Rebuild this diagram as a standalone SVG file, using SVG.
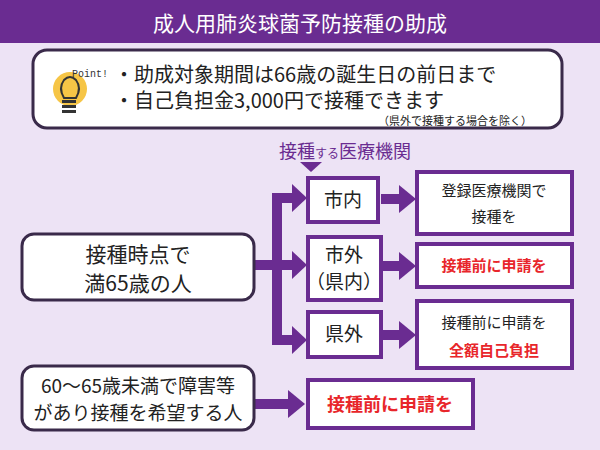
<svg xmlns="http://www.w3.org/2000/svg" width="600" height="450" viewBox="0 0 600 450">
<style>
text{font-family:"Noto Sans CJK JP","Noto Sans",sans-serif;font-weight:normal}
.b{fill:#fff;stroke:#6a2c91;stroke-width:4}
.r{fill:#fff;stroke:#3a2a4a;stroke-width:3}
.c{fill:#6a2c91}
.k{fill:#222}
.red{fill:#e8262b;font-weight:bold}
</style>
<rect width="600" height="450" fill="#ede3f5"/>
<g id="title"><rect width="600" height="43" fill="#6a2c91"/><text x="300" y="31" font-size="21" fill="#fff" text-anchor="middle">成人用肺炎球菌予防接種の助成</text></g>
<g id="point">
<rect x="33" y="50" width="529" height="78" rx="14" class="r"/>
<circle cx="70" cy="89" r="17" fill="#f6c546"/>
<path d="M64 98 q-6-10 0-18 q6-6 12 0 q6 8 0 18z" fill="none" stroke="#333" stroke-width="2"/>
<rect x="62" y="100" width="14" height="3" fill="#333"/><rect x="62" y="105" width="14" height="3" fill="#333"/><rect x="62" y="110" width="14" height="3" fill="#333"/>
<text x="72" y="77" font-size="10" style="font-family:'Liberation Mono',monospace" fill="#333">Point!</text>
<text x="114" y="82" font-size="20" class="k">・助成対象期間は66歳の誕生日の前日まで</text>
<text x="114" y="108" font-size="20" class="k">・自己負担金3,000円で接種できます</text>
<text x="455" y="125" font-size="11" class="k" text-anchor="middle">（県外で接種する場合を除く）</text>
</g>
<g id="label"><text x="345" y="158" font-size="18" class="c" text-anchor="middle">接種<tspan font-size="12">する</tspan>医療機関</text>
<polygon points="300,162 322,162 311,172" class="c"/></g>
<g id="connectors" class="c">
<rect x="254" y="260" width="25" height="10"/>
<rect x="272" y="193" width="10" height="152"/>
<rect x="272" y="193" width="22" height="10"/><polygon points="292,184 307,198 292,212"/>
<rect x="272" y="260" width="22" height="10"/><polygon points="292,251 307,265 292,279"/>
<rect x="272" y="335" width="22" height="10"/><polygon points="292,326 307,340 292,354"/>
<rect x="381" y="194" width="20" height="10"/><polygon points="399,185 416,199 399,213"/>
<rect x="381" y="261" width="20" height="10"/><polygon points="399,252 416,266 399,280"/>
<rect x="381" y="330" width="20" height="10"/><polygon points="399,321 416,335 399,349"/>
<rect x="254" y="399" width="36" height="10"/><polygon points="288,390 305,404 288,418"/>
</g>
<g id="n1"><rect x="22" y="234" width="232" height="66" rx="12" class="r"/><text x="138" y="262" font-size="21" class="k" text-anchor="middle">接種時点で</text><text x="138" y="291" font-size="21" class="k" text-anchor="middle">満65歳の人</text></g>
<g id="n2"><rect x="22" y="366" width="232" height="64" rx="12" class="r"/><text x="138" y="393" font-size="19" class="k" text-anchor="middle">60～65歳未満で障害等</text><text x="138" y="420" font-size="19" class="k" text-anchor="middle">があり接種を希望する人</text></g>
<g id="m1"><rect x="308" y="178" width="70" height="44" class="b"/><text x="343" y="207" font-size="19" class="k" text-anchor="middle">市内</text></g>
<g id="m2"><rect x="308" y="237" width="73" height="63" class="b"/><text x="344" y="262" font-size="19" class="k" text-anchor="middle">市外</text><text x="344" y="289" font-size="19" class="k" text-anchor="middle">（県内）</text></g>
<g id="m3"><rect x="308" y="312" width="73" height="45" class="b"/><text x="344" y="341" font-size="19" class="k" text-anchor="middle">県外</text></g>
<g id="r1"><rect x="417" y="172" width="155" height="62" class="b"/><text x="494" y="196" font-size="15" class="k" text-anchor="middle">登録医療機関で</text><text x="494" y="222" font-size="15" class="k" text-anchor="middle">接種を</text></g>
<g id="r2"><rect x="417" y="244" width="155" height="43" class="b"/><text x="494" y="271" font-size="15" class="red" text-anchor="middle">接種前に申請を</text></g>
<g id="r3"><rect x="417" y="301" width="155" height="67" class="b"/><text x="494" y="328" font-size="15" class="k" text-anchor="middle">接種前に申請を</text><text x="494" y="356" font-size="15" class="red" text-anchor="middle">全額自己負担</text></g>
<g id="r4"><rect x="308" y="380" width="165" height="48" class="b"/><text x="390" y="411" font-size="18" class="red" text-anchor="middle">接種前に申請を</text></g>
</svg>
